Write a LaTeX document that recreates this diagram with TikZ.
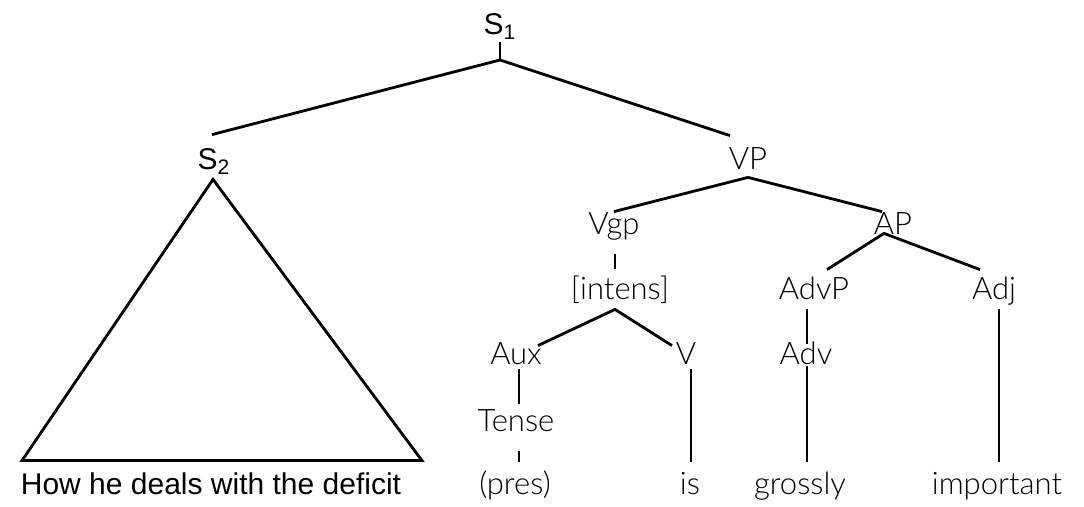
\documentclass[tikz,border=0pt]{standalone}
\usepackage{fontspec}
\setmainfont{Liberation Sans}
\newfontfamily\thinfont{Lato Light}
\begin{document}
\begin{tikzpicture}[x=0.5pt,y=-0.5pt,line width=1.4pt,
    cat/.style={inner sep=0pt,anchor=base,text height=11pt,text depth=3pt,
      font=\thinfont\fontsize{15.5}{18}\selectfont},
    word/.style={cat,font=\fontsize{15}{18}\selectfont}]
  \useasboundingbox (0,0) rectangle (1084,507);
  % sentence level
  \node[word] (s1) at (500,35) {S\textsubscript{1}};
  \node[word] (s2) at (214,170) {S\textsubscript{2}};
  \node[cat] (vp) at (748,170) {VP};
  \coordinate (top) at (500,60);
  % verb group
  \node[cat] (vgp) at (614,235) {Vgp};
  \node[cat] (intens) at (620,300) {[intens]};
  \node[cat] (aux) at (516,365) {Aux};
  \node[cat] (v) at (686,365) {V};
  \node[cat] (tense) at (516,432) {Tense};
  % adjective phrase
  \node[cat] (ap) at (893,235) {AP};
  \node[cat] (advp) at (814,300) {AdvP};
  \node[cat] (adj) at (994,300) {Adj};
  \node[cat] (adv) at (806,365) {Adv};
  % words
  \node[word] (subj) at (211,495) {How he deals with the deficit};
  \node[cat] (pres) at (515,495) {(pres)};
  \node[cat] (is) at (690,495) {is};
  \node[cat] (grossly) at (800,495) {grossly};
  \node[cat] (important) at (997,495) {important};

  \draw (s1.south) -- (top);
  \draw (top) -- ([shift={(-2,-12)}]s2.north);
  \draw (top) -- ([shift={(-18,-11)}]vp.north);
  \draw ([shift={(-1,2)}]s2.south) -- ([shift={(-189,-11)}]subj.north)
    -- ([shift={(211,-11)}]subj.north) -- cycle;
  \draw (vp.south) -- (vgp.north);
  \draw (vp.south) -- ([shift={(-11,0)}]ap.north);
  \draw ([shift={(1,12)}]vgp.south) -- ([shift={(-5,-8)}]intens.north);
  \draw ([shift={(22,4)}]aux.north) -- ([shift={(-5,2)}]intens.south)
    -- ([shift={(-14,4)}]v.north);
  \draw ([shift={(3,-3)}]aux.south) -- ([shift={(3,-5)}]tense.north);
  \draw ([shift={(3,12)}]tense.south) -- ([shift={(4,-10)}]pres.north);
  \draw ([shift={(5,-3)}]v.south) -- ([shift={(1,-10)}]is.north);
  \draw ([shift={(13,-7)}]advp.north) -- ([shift={(-9,-9)}]ap.south)
    -- ([shift={(-14,-7)}]adj.north);
  \draw ([shift={(-7,2)}]advp.south) -- ([shift={(1,2)}]adv.north);
  \draw ([shift={(1,-6)}]adv.south) -- ([shift={(7,-10)}]grossly.north);
  \draw ([shift={(5,2)}]adj.south) -- ([shift={(2,-10)}]important.north);
\end{tikzpicture}
\end{document}
